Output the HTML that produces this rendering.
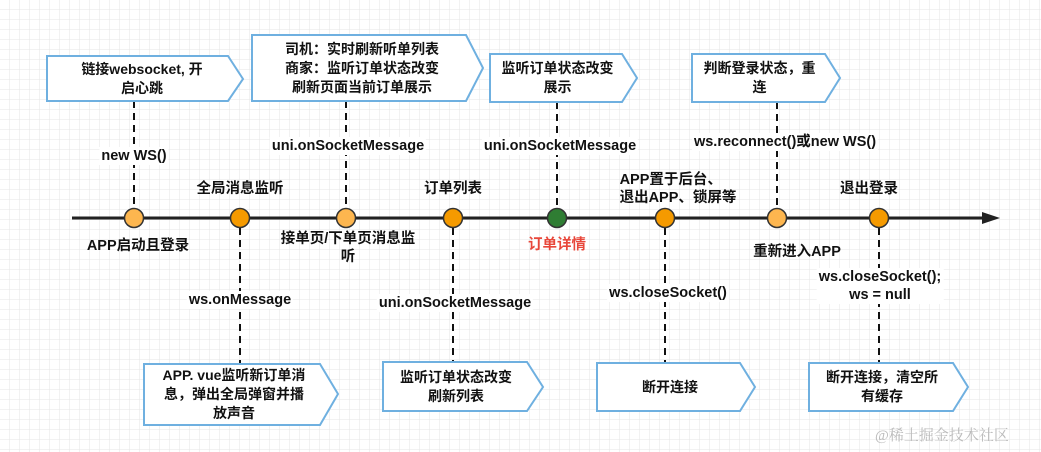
<!DOCTYPE html>
<html><head><meta charset="utf-8"><style>
body{margin:0;width:1041px;height:452px;overflow:hidden;background:#fff;position:relative;font-family:"Liberation Sans","Noto Sans CJK SC",sans-serif;}
svg{position:absolute;left:0;top:0}
.t{position:absolute;font-size:14.5px;font-weight:bold;color:#111;text-align:center;line-height:18px;white-space:nowrap;transform:translateX(-50%);background:#fff;padding:0 2px}
.b{position:absolute;font-size:14px;font-weight:bold;color:#111;text-align:center;line-height:19px;display:flex;align-items:center;justify-content:center;white-space:nowrap}
</style></head><body>
<svg width="1041" height="452">
<defs><pattern id="g" width="10" height="10" patternUnits="userSpaceOnUse"><path d="M10 0V10H0" fill="none" stroke="#e6e6e6" stroke-width="1"/></pattern></defs>
<rect width="1041" height="452" fill="url(#g)"/>
<g stroke="#111" stroke-width="2" stroke-dasharray="7,5" fill="none">
<line x1="134" y1="101" x2="134" y2="208"/><line x1="346" y1="101" x2="346" y2="208"/>
<line x1="557" y1="102" x2="557" y2="208"/><line x1="777" y1="102" x2="777" y2="208"/>
<line x1="240" y1="228" x2="240" y2="363"/><line x1="453" y1="228" x2="453" y2="362"/>
<line x1="665" y1="228" x2="665" y2="363"/><line x1="879" y1="228" x2="879" y2="363"/>
</g>
<line x1="72" y1="218" x2="985" y2="218" stroke="#222" stroke-width="3"/>
<polygon points="1000,218 982,212 982,224" fill="#222"/>
<g stroke="#333" stroke-width="1.5">
<circle cx="134" cy="218" r="9.5" fill="#fdb64f"/><circle cx="240" cy="218" r="9.5" fill="#f59a00"/>
<circle cx="346" cy="218" r="9.5" fill="#fdb64f"/><circle cx="453" cy="218" r="9.5" fill="#f59a00"/>
<circle cx="557" cy="218" r="9.5" fill="#2f7d33"/><circle cx="665" cy="218" r="9.5" fill="#f59a00"/>
<circle cx="777" cy="218" r="9.5" fill="#fdb64f"/><circle cx="879" cy="218" r="9.5" fill="#f59a00"/>
</g>
<g fill="#fff" stroke="#6fb0e0" stroke-width="2">
<polygon points="47,56 228,56 243,79 228,101 47,101"/>
<polygon points="252,35 466,35 483,68 466,101 252,101"/>
<polygon points="490,54 622,54 637,78 622,102 490,102"/>
<polygon points="692,54 825,54 840,78 825,102 692,102"/>
<polygon points="144,364 320,364 338,394 320,425 144,425"/>
<polygon points="383,362 527,362 543,387 527,411 383,411"/>
<polygon points="597,363 740,363 755,387 740,411 597,411"/>
<polygon points="809,363 953,363 968,387 953,411 809,411"/>
</g>
</svg>
<div class="b" style="left:47px;top:56px;width:190px;height:45px">链接websocket, 开<br>启心跳</div>
<div class="b" style="left:252px;top:35px;width:220px;height:66px">司机：实时刷新听单列表<br>商家：监听订单状态改变<br>刷新页面当前订单展示</div>
<div class="b" style="left:490px;top:54px;width:135px;height:48px">监听订单状态改变<br>展示</div>
<div class="b" style="left:692px;top:54px;width:135px;height:48px">判断登录状态，重<br>连</div>
<div class="b" style="left:144px;top:364px;width:180px;height:61px">APP. vue监听新订单消<br>息，弹出全局弹窗并播<br>放声音</div>
<div class="b" style="left:383px;top:362px;width:146px;height:49px">监听订单状态改变<br>刷新列表</div>
<div class="b" style="left:597px;top:363px;width:146px;height:48px">断开连接</div>
<div class="b" style="left:809px;top:363px;width:146px;height:48px">断开连接，清空所<br>有缓存</div>
<div class="t" style="left:134px;top:147px">new WS()</div>
<div class="t" style="left:348px;top:137px">uni.onSocketMessage</div>
<div class="t" style="left:560px;top:137px">uni.onSocketMessage</div>
<div class="t" style="left:785px;top:133px">ws.reconnect()或new WS()</div>
<div class="t" style="left:240px;top:180px;background:none">全局消息监听</div>
<div class="t" style="left:453px;top:180px;background:none">订单列表</div>
<div class="t" style="left:678px;top:171px;background:none;text-align:left">APP置于后台、<br>退出APP、锁屏等</div>
<div class="t" style="left:869px;top:180px;background:none">退出登录</div>
<div class="t" style="left:138px;top:237px;background:none">APP启动且登录</div>
<div class="t" style="left:348px;top:230px;background:none">接单页/下单页消息监<br>听</div>
<div class="t" style="left:557px;top:236px;background:none;color:#e8473a">订单详情</div>
<div class="t" style="left:797px;top:243px;background:none">重新进入APP</div>
<div class="t" style="left:240px;top:291px">ws.onMessage</div>
<div class="t" style="left:455px;top:294px">uni.onSocketMessage</div>
<div class="t" style="left:668px;top:284px">ws.closeSocket()</div>
<div class="t" style="left:880px;top:268px">ws.closeSocket();<br>ws = null</div>
<div style="position:absolute;left:875px;top:424px;font-size:15px;color:#bbb;font-family:'Liberation Serif','Noto Serif CJK SC',serif">@稀土掘金技术社区</div>
</body></html>
